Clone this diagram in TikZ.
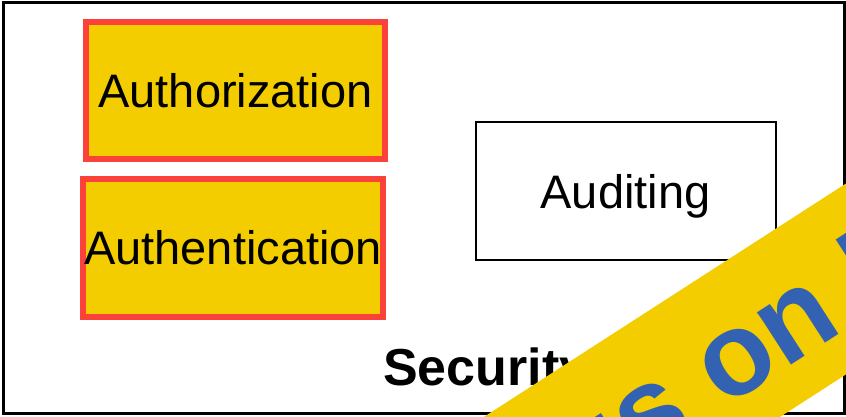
\documentclass[tikz,border=0pt]{standalone}
\usepackage{fontspec}
\setmainfont{Liberation Sans}
\definecolor{boxyellow}{RGB}{243,205,0}
\definecolor{boxred}{RGB}{250,66,58}
\definecolor{bandblue}{RGB}{52,98,178}
\tikzset{
  pillar/.style={draw=boxred, fill=boxyellow, line width=6pt, inner sep=0pt,
    font=\fontsize{47}{56}\selectfont},
  plainbox/.style={draw=black, line width=2pt, inner sep=0pt, text depth=0pt,
    font=\fontsize{47}{56}\selectfont},
  frame/.style={draw=black, line width=3pt},
  bandtext/.style={text=bandblue, inner sep=0pt,
    font=\fontsize{118}{130}\selectfont\bfseries}
}
\begin{document}
\begin{tikzpicture}[x=1pt, y=-1pt]
  \useasboundingbox (0,0) rectangle (846,417);
  % outer frame
  \draw[frame] (3.5,2.5) rectangle (844,413.5);
  % the three components
  \node[pillar, minimum width=299pt, minimum height=137pt] (authz) at (235.5,90.5) {Authorization};
  \node[pillar, minimum width=300pt, minimum height=138pt] (authn) at (233,248) {Authentication};
  \node[plainbox, minimum width=300pt, minimum height=137pt] (audit) at (625.5,191) {Auditing};
  % title
  \node[anchor=base west, inner sep=0pt, font=\fontsize{52}{60}\selectfont\bfseries] (title) at (383,385) {Security};
  % diagonal banner
  \begin{scope}
    \clip (0,0) rectangle (846,417);
    \fill[boxyellow] (400,471) -- (900,148.7) -- (900,339.6) -- (700,468.5) -- cycle;
    \node[bandtext, rotate=32.8, anchor=base] (focus) at (785,369) {\llap{Focus }on\rlap{ Identity}};
  \end{scope}
\end{tikzpicture}
\end{document}
